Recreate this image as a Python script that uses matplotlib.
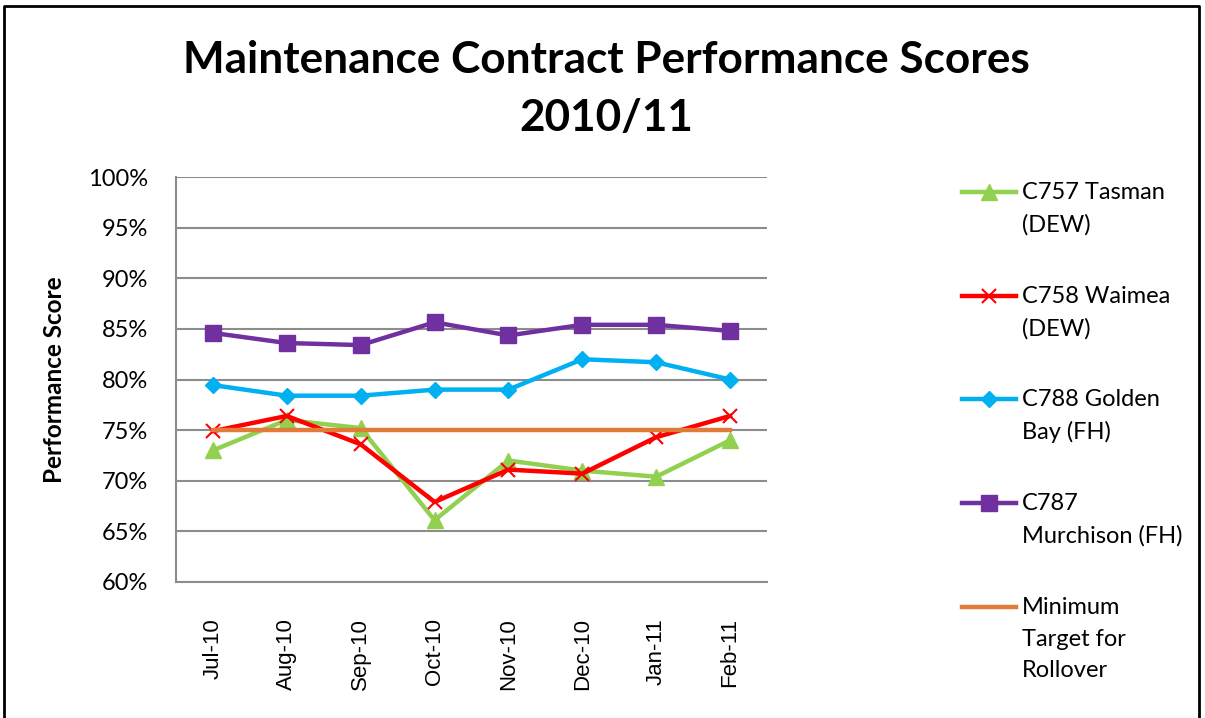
import matplotlib
matplotlib.use("Agg")
import matplotlib.pyplot as plt
from matplotlib.lines import Line2D
from matplotlib.ticker import FuncFormatter

plt.rcParams['font.family'] = ['Lato', 'DejaVu Sans']

# Data (percent)
months = ["Jul-10", "Aug-10", "Sep-10", "Oct-10", "Nov-10", "Dec-10", "Jan-11", "Feb-11"]
tasman = [73.0, 76.0, 75.2, 66.1, 72.0, 71.0, 70.4, 74.0]
waimea = [74.9, 76.4, 73.6, 67.9, 71.1, 70.7, 74.3, 76.4]
golden_bay = [79.45, 78.4, 78.4, 79.0, 79.0, 82.0, 81.7, 80.0]
murchison = [84.6, 83.6, 83.4, 85.65, 84.35, 85.4, 85.4, 84.8]
min_target = [75, 75, 75, 75, 75, 75, 75, 75]

series = [
    ("C757 Tasman\n(DEW)", tasman, "#92d050", "^", 11),
    ("C758 Waimea\n(DEW)", waimea, "#ff0000", "x", 10),
    ("C788 Golden\nBay (FH)", golden_bay, "#00b0f0", "D", 8.5),
    ("C787\nMurchison (FH)", murchison, "#7030a0", "s", 11),
    ("Minimum\nTarget for\nRollover", min_target, "#e07b39", None, 0),
]

W, H = 1205, 718
fig = plt.figure(figsize=(W / 100, H / 100), dpi=100)
ax = fig.add_axes([176 / W, 1 - 582 / H, (767 - 176) / W, (582 - 177) / H])

x = list(range(len(months)))
for label, vals, color, marker, ms in series:
    ax.plot(x, vals, color=color, lw=3.2, marker=marker, markersize=ms,
            markeredgewidth=1.5 if marker == "x" else 1, markeredgecolor=color,
            solid_joinstyle="round")

ax.set_xlim(-0.5, len(months) - 0.5)
ax.set_ylim(60, 100)
ax.set_yticks(range(60, 101, 5))
ax.yaxis.set_major_formatter(FuncFormatter(lambda v, p: f"{v:.0f}%"))
ax.set_xticks(x)
ax.set_xticklabels(months, rotation=90, fontsize=16, family="Liberation Sans")
ax.tick_params(axis="y", labelsize=17, length=0, pad=20)
ax.tick_params(axis="x", length=0, pad=26)
ax.grid(axis="y", color="#8c8c8c", lw=1.5)
ax.set_axisbelow(True)
for side in ["top", "right"]:
    ax.spines[side].set_visible(False)
for side in ["left", "bottom"]:
    ax.spines[side].set_color("#8c8c8c")
    ax.spines[side].set_linewidth(1.5)
ax.set_ylabel("Performance Score", fontsize=17.5, fontweight="bold", labelpad=16)

fig.text(606 / W, 1 - 60 / H, "Maintenance Contract Performance Scores",
         ha="center", va="center", fontsize=31.8, fontweight="bold")
fig.text(606 / W, 1 - 118 / H, "2010/11",
         ha="center", va="center", fontsize=31.8, fontweight="bold")

# legend drawn by hand so the handle sits on the first text line
leg_y = [192, 296, 399, 503, 607]
for (label, vals, color, marker, ms), y in zip(series, leg_y):
    yf = 1 - y / H
    fig.add_artist(Line2D([962 / W, 989 / W, 1016 / W], [yf, yf, yf],
                          transform=fig.transFigure, color=color, lw=3.2,
                          marker=marker, markevery=[1], markersize=ms,
                          markeredgecolor=color, markeredgewidth=1.5 if marker == "x" else 1))
    fig.text(1022 / W, yf + 10 / H, label, ha="left", va="top", fontsize=17,
             linespacing=1.62)

# chart border
fig.add_artist(Line2D([4 / W, 4 / W, 1199 / W, 1199 / W], [0, 1 - 6 / H, 1 - 6 / H, 0],
                      transform=fig.transFigure, color="black", lw=2))

fig.savefig("out.png", dpi=100)
